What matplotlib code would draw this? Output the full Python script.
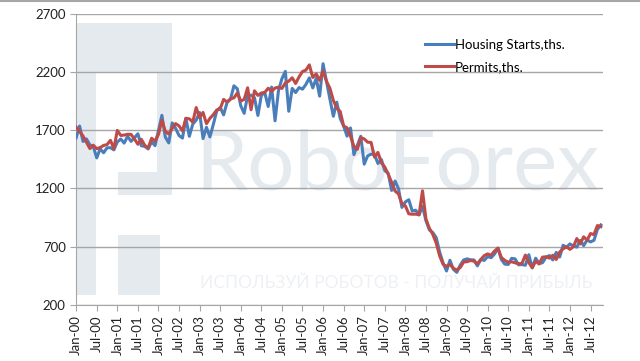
import matplotlib
matplotlib.use("Agg")
import matplotlib.pyplot as plt
from matplotlib.patches import Rectangle
import numpy as np

start_year = 2000
housing_starts = [
    1636, 1737, 1604, 1626, 1575, 1559, 1463, 1541, 1507, 1549, 1551, 1532,
    1600, 1625, 1590, 1649, 1605, 1636, 1670, 1567, 1562, 1540, 1602, 1568,
    1698, 1829, 1642, 1592, 1764, 1717, 1655, 1633, 1804, 1648, 1753, 1788,
    1853, 1629, 1726, 1643, 1751, 1867, 1897, 1833, 1939, 1967, 2083, 2057,
    1911, 1846, 1998, 2003, 1981, 1828, 2002, 2024, 1905, 2072, 1782, 2042,
    2144, 2207, 1864, 2061, 2025, 2068, 2054, 2095, 2151, 2065, 2147, 1994,
    2273, 2119, 1969, 1821, 1942, 1802, 1737, 1650, 1720, 1491, 1570, 1649,
    1409, 1480, 1495, 1490, 1415, 1448, 1354, 1330, 1183, 1264, 1197, 1037,
    1084, 1103, 1005, 1013, 973, 1046, 923, 844, 820, 777, 652, 560,
    490, 582, 505, 478, 540, 585, 594, 586, 585, 534, 588, 581,
    614, 604, 636, 687, 588, 549, 546, 599, 594, 543, 545, 539,
    630, 517, 600, 554, 561, 608, 623, 585, 650, 610, 711, 694,
    723, 704, 695, 753, 708, 757, 740, 754, 847, 886,
]
permits = [
    1727, 1692, 1651, 1597, 1543, 1572, 1542, 1552, 1570, 1577, 1614, 1543,
    1699, 1656, 1659, 1666, 1665, 1626, 1580, 1623, 1571, 1547, 1632, 1607,
    1665, 1787, 1691, 1669, 1716, 1758, 1738, 1695, 1803, 1799, 1771, 1896,
    1808, 1854, 1757, 1803, 1835, 1875, 1885, 1966, 1944, 1971, 1979, 2020,
    1952, 1966, 2066, 1877, 2040, 2000, 2021, 2026, 2062, 2035, 2064, 2071,
    2060, 2108, 2123, 2152, 2103, 2160, 2206, 2218, 2263, 2155, 2185, 2130,
    2209, 2121, 2062, 1957, 1891, 1862, 1737, 1721, 1650, 1562, 1537, 1637,
    1626, 1598, 1596, 1470, 1510, 1421, 1384, 1322, 1253, 1178, 1152, 1068,
    1050, 982, 978, 979, 973, 1180, 937, 857, 805, 730, 620, 547,
    530, 547, 513, 498, 520, 567, 570, 580, 575, 552, 589, 622,
    637, 625, 662, 686, 606, 581, 565, 569, 560, 552, 555, 627,
    562, 518, 574, 550, 609, 612, 601, 625, 589, 653, 681, 697,
    676, 699, 769, 723, 784, 755, 812, 803, 881, 871,
]
series_names = ["Housing Starts,ths.", "Permits,ths."]
y_ticks = [200, 700, 1200, 1700, 2200, 2700]

months = ["Jan", "Jul"]
n = len(housing_starts)
x = np.arange(n)
tick_pos = list(range(0, n, 6))
tick_labels = [f"{months[(p // 6) % 2]}-{(start_year + p // 12) % 100:02d}" for p in tick_pos]

W, H = 640, 361
fig = plt.figure(figsize=(6.4, 3.61), dpi=100)
ax = fig.add_axes([0.119, 0.156, 0.823, 0.805])
ax.set_axisbelow(False)

# ---- faint watermark (decoration, figure-pixel placement) ----
wm = "#e5eaef"
def px_rect(x0, y0, x1, y1, color=wm):
    ax.add_patch(Rectangle((x0 / W, 1 - y1 / H), (x1 - x0) / W, (y1 - y0) / H,
                           transform=fig.transFigure, color=color, lw=0,
                           zorder=0.5, clip_on=False))
px_rect(77, 23, 96, 295)
px_rect(96, 23, 172, 72)
px_rect(157, 23, 172, 195)
px_rect(118, 172, 172, 195)
px_rect(118, 235, 160, 295)

ax.text(195 / W, 1 - 190 / H, "RoboForex", transform=fig.transFigure,
        fontsize=60, color=wm, family=["Lato", "DejaVu Sans"],
        ha="left", va="baseline", zorder=0.6)
ax.text(200 / W, 1 - 288 / H, "ИСПОЛЬЗУЙ РОБОТОВ - ПОЛУЧАЙ ПРИБЫЛЬ",
        transform=fig.transFigure, fontsize=12.5, color="#eef0f3",
        family=["Lato", "DejaVu Sans"], ha="left", va="baseline", zorder=0.6)

blue = "#4a7ebb"
red = "#be4b48"
ax.plot(x, housing_starts, color=blue, lw=2.2, label=series_names[0], zorder=3)
ax.plot(x, permits, color=red, lw=2.2, label=series_names[1], zorder=4)

ax.set_ylim(200, 2700)
ax.set_yticks(y_ticks)
ax.set_xlim(0, n - 1 + 0.6)
ax.set_xticks(tick_pos)
ax.set_xticklabels(tick_labels, rotation=90)
ax.grid(axis="y", color="#a6a6a6", lw=1)
for gl in ax.get_ygridlines():
    gl.set_zorder(1)
for s in ["top", "right"]:
    ax.spines[s].set_visible(False)
for s in ["left", "bottom"]:
    ax.spines[s].set_color("#a6a6a6")
ax.tick_params(axis="both", colors="#a6a6a6", labelcolor="#222222", labelsize=9.5, length=4)
for lab in ax.get_xticklabels() + ax.get_yticklabels():
    lab.set_family(["Lato", "DejaVu Sans"])

leg = ax.legend(loc="upper right", bbox_to_anchor=(0.95, 0.955), frameon=False,
                handlelength=2.2, handletextpad=0.1, labelspacing=0.75,
                prop={"family": ["Lato", "DejaVu Sans"], "size": 9.5})
leg.set_zorder(5)

fig.add_artist(plt.Line2D([0, 1], [0.998, 0.998], color="#a6a6a6", lw=1.5,
                          transform=fig.transFigure))

fig.savefig("out.png", dpi=100)
